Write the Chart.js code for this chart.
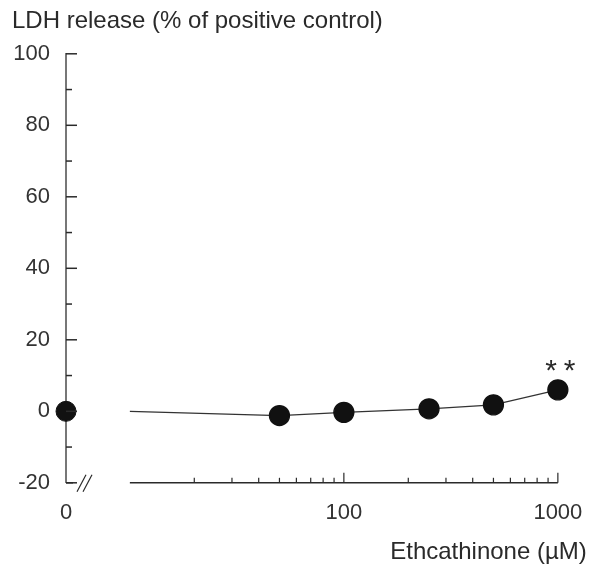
<!DOCTYPE html>
<html>
<head>
<meta charset="utf-8">
<script src="https://cdn.jsdelivr.net/npm/chart.js@4"></script>
<style>
  html, body { margin: 0; padding: 0; background: #fff; }
  #wrap { width: 600px; height: 571px; }
</style>
</head>
<body>
<div id="wrap"><canvas id="chart"></canvas></div>
<script>
// values
const controlDose = [0];
const controlLdh = [0];
const doses = [50, 100, 250, 500, 1000];          // µM
const ldh = [-1.2, -0.3, 0.7, 1.8, 6.0];          // % of positive control
const sigMarks = ['', '', '', '', '**'];
const breakDose = 10;                             // log axis restarts here after the //
const xTicks = [20, 30, 40, 50, 60, 70, 80, 90, 100, 200, 300, 400, 500, 600, 700, 800, 900, 1000];
const xLabels = [100, 1000];

const xMin = 5.03, xMax = 1365;   // puts the 0 dose on the y axis and 1000 near the right
const font = '"Liberation Sans", Arial, Helvetica, sans-serif';
const ink = '#2a2a2a';

// tick marks point into the plot, x axis is broken with a //
const axisMarks = {
    id: 'axisMarks',
    afterDraw(chart) {
        const { ctx, chartArea: a, scales: { x, y } } = chart;
        const line = (x1, y1, x2, y2) => { ctx.beginPath(); ctx.moveTo(x1, y1); ctx.lineTo(x2, y2); ctx.stroke(); };
        ctx.save();
        ctx.strokeStyle = ink;
        ctx.lineWidth = 1.5;
        y.ticks.forEach(t => {
            const py = y.getPixelForValue(t.value);
            line(a.left, py, a.left + (t.value % 20 === 0 ? 11 : 6), py);
        });
        // foot of the y axis and the break
        line(a.left, a.bottom, a.left + 7, a.bottom);
        ctx.lineWidth = 1.2;
        line(a.left + 11, a.bottom + 9, a.left + 20, a.bottom - 8);
        line(a.left + 17, a.bottom + 9, a.left + 26, a.bottom - 8);
        // log part of the x axis
        ctx.lineWidth = 1.5;
        line(x.getPixelForValue(breakDose), a.bottom, x.getPixelForValue(1000), a.bottom);
        ctx.lineWidth = 1.2;
        x.ticks.forEach(t => {
            if (t.value < breakDose) return;
            const px = x.getPixelForValue(t.value);
            line(px, a.bottom, px, a.bottom - (xLabels.includes(t.value) ? 10 : 5));
        });
        // significance marks
        const meta = chart.getDatasetMeta(1);
        ctx.fillStyle = ink;
        ctx.font = '30px ' + font;
        ctx.textAlign = 'center';
        ctx.textBaseline = 'middle';
        ctx.letterSpacing = '7px';
        sigMarks.forEach((m, i) => {
            if (!m) return;
            const p = meta.data[i + 1];
            ctx.fillText(m, p.x + 6, p.y - 18);
        });
        ctx.restore();
    }
};

new Chart(document.getElementById('chart'), {
    type: 'line',
    data: {
        datasets: [
            {
                xAxisID: 'xc',
                data: controlDose.map((d, i) => ({ x: d, y: controlLdh[i] })),
                showLine: false,
                pointRadius: 10,
                pointBackgroundColor: '#111',
                pointBorderColor: '#111',
                clip: false,
            },
            {
                xAxisID: 'x',
                data: [{ x: breakDose, y: controlLdh[0] }].concat(doses.map((d, i) => ({ x: d, y: ldh[i] }))),
                borderColor: '#333',
                borderWidth: 1.3,
                pointRadius: [0].concat(doses.map(() => 10)),
                pointBackgroundColor: '#111',
                pointBorderColor: '#111',
                tension: 0,
                clip: false,
            },
        ],
    },
    options: {
        responsive: true,
        maintainAspectRatio: false,
        animation: false,
        layout: { padding: { left: 12, right: 12, top: 0, bottom: 0 } },
        plugins: {
            legend: { display: false },
            tooltip: { enabled: false },
            title: {
                display: true,
                text: 'LDH release (% of positive control)',
                align: 'start',
                color: ink,
                font: { family: font, size: 24, weight: 'normal' },
                padding: { top: 7, bottom: 18 },
            },
        },
        scales: {
            x: {
                type: 'logarithmic',
                min: xMin,
                max: xMax,
                bounds: 'data',
                afterBuildTicks: (scale) => {
                    scale.ticks = [xMin].concat(xTicks).map(v => ({ value: v }));
                },
                ticks: {
                    autoSkip: false,
                    maxRotation: 0,
                    padding: 17,
                    color: '#333',
                    font: { family: font, size: 22 },
                    callback: (v) => v === xMin ? '0' : (xLabels.includes(v) ? String(v) : ''),
                },
                grid: { display: false, drawTicks: false },
                border: { display: false },
                title: {
                    display: true,
                    text: 'Ethcathinone (µM)',
                    align: 'end',
                    color: ink,
                    font: { family: font, size: 24 },
                    padding: { top: -5, bottom: 4 },
                },
            },
            xc: { type: 'linear', display: false, min: 0, max: 1 },
            y: {
                min: -20,
                max: 100,
                afterFit: (scale) => { scale.width = 54; },
                ticks: {
                    stepSize: 10,
                    padding: 16,
                    color: '#333',
                    font: { family: font, size: 22 },
                    callback: (v) => v % 20 === 0 ? String(v) : '',
                },
                grid: { display: false, drawTicks: false },
                border: { display: true, color: '#777', width: 2 },
            },
        },
    },
    plugins: [axisMarks],
});
</script>
</body>
</html>
